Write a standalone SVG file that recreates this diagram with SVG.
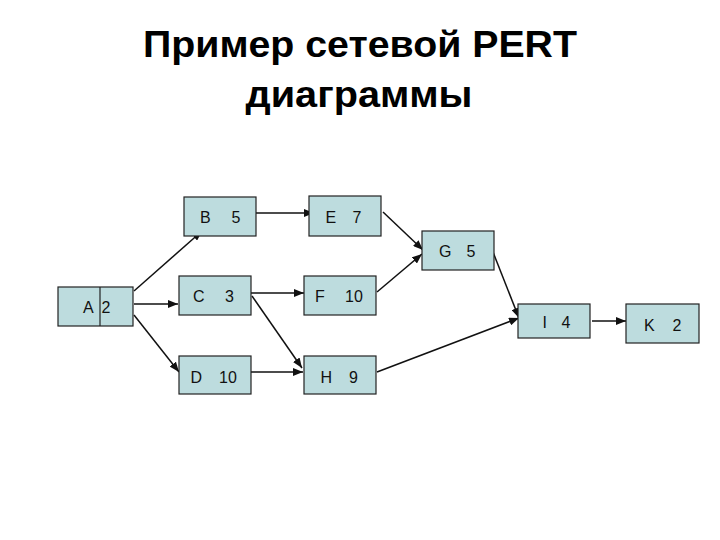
<svg xmlns="http://www.w3.org/2000/svg" width="720" height="540" viewBox="0 0 720 540">
<style>
.box{fill:#bddcde;stroke:#222;stroke-width:1.2}
.lbl{font-family:"Liberation Sans",Arial,sans-serif;font-size:16px;fill:#111}
.title{font-family:"Liberation Sans",Arial,sans-serif;font-size:36px;font-weight:bold;fill:#000;text-anchor:middle}
.edge{stroke:#111;stroke-width:1.5;fill:none;marker-end:url(#ah)}
</style>
<defs>
<marker id="ah" markerUnits="userSpaceOnUse" markerWidth="11" markerHeight="8" refX="10" refY="4" orient="auto">
<path d="M0,0 L10,4 L0,8 Z" fill="#111"/>
</marker>
</defs>
<rect width="720" height="540" fill="#fff"/>
<text class="title" x="360" y="57" textLength="434" lengthAdjust="spacingAndGlyphs">Пример сетевой PERT</text>
<text class="title" x="359" y="107" textLength="227" lengthAdjust="spacingAndGlyphs">диаграммы</text>
<g id="connectors">
<line class="edge" x1="134" y1="291" x2="202" y2="231"/>
<line class="edge" x1="134" y1="304" x2="178" y2="304"/>
<line class="edge" x1="134" y1="315" x2="179" y2="372"/>
<line class="edge" x1="256" y1="213" x2="314" y2="213"/>
<line class="edge" x1="251" y1="293" x2="304" y2="293"/>
<line class="edge" x1="252" y1="296" x2="302" y2="368"/>
<line class="edge" x1="251" y1="372" x2="303" y2="372"/>
<line class="edge" x1="383" y1="212" x2="423" y2="250"/>
<line class="edge" x1="377" y1="292" x2="422" y2="254"/>
<line class="edge" x1="491" y1="247" x2="519" y2="318"/>
<line class="edge" x1="377" y1="372" x2="519" y2="318"/>
<line class="edge" x1="592" y1="321" x2="626" y2="321"/>
</g>
<g id="A"><rect class="box" x="58" y="287" width="75" height="39"/><line x1="100" y1="287" x2="100" y2="326" stroke="#222" stroke-width="1.2"/><text class="lbl" y="312.5"><tspan x="83">A</tspan><tspan x="101.5">2</tspan></text></g>
<g id="B"><rect class="box" x="184" y="197" width="72" height="39"/><text class="lbl" y="223"><tspan x="200">B</tspan><tspan x="231.5">5</tspan></text></g>
<g id="C"><rect class="box" x="179" y="276" width="72" height="39"/><text class="lbl" y="302"><tspan x="193">C</tspan><tspan x="225">3</tspan></text></g>
<g id="D"><rect class="box" x="179" y="356" width="72" height="38"/><text class="lbl" y="383"><tspan x="190.5">D</tspan><tspan x="219">10</tspan></text></g>
<g id="E"><rect class="box" x="309" y="196" width="72" height="40"/><text class="lbl" y="223"><tspan x="325.5">E</tspan><tspan x="352.5">7</tspan></text></g>
<g id="F"><rect class="box" x="304" y="276" width="72" height="39"/><text class="lbl" y="302"><tspan x="315">F</tspan><tspan x="345">10</tspan></text></g>
<g id="G"><rect class="box" x="422" y="231" width="72" height="39"/><text class="lbl" y="256.5"><tspan x="439">G</tspan><tspan x="466.5">5</tspan></text></g>
<g id="H"><rect class="box" x="304" y="356" width="72" height="38"/><text class="lbl" y="383"><tspan x="320.5">H</tspan><tspan x="349">9</tspan></text></g>
<g id="I"><rect class="box" x="518" y="304" width="72" height="34"/><text class="lbl" y="328"><tspan x="542.5">I</tspan><tspan x="561.5">4</tspan></text></g>
<g id="K"><rect class="box" x="626" y="304" width="73" height="39"/><text class="lbl" y="331"><tspan x="644">K</tspan><tspan x="672.5">2</tspan></text></g>
</svg>
